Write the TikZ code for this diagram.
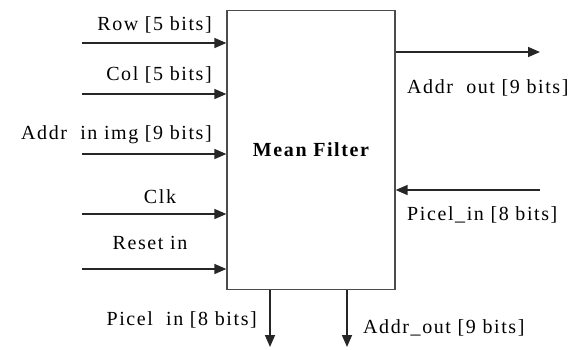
\documentclass[tikz,border=0pt]{standalone}
\usepackage{fontspec}
\setmainfont{Liberation Serif}[LetterSpace=8]
\usetikzlibrary{arrows.meta, positioning, calc}

\begin{document}
\begin{tikzpicture}[
    x=1pt, y=-1pt,
    >={Triangle[length=12pt, width=10pt]},
    filterbox/.style={draw=black!70, line width=1.3pt, fill=white, minimum width=168pt, minimum height=279pt, inner sep=0pt, font=\fontsize{20}{22}\selectfont\bfseries},
    sig/.style={draw=black!85, line width=1.6pt, ->},
    lbl/.style={inner sep=0pt, font=\fontsize{20}{22}\selectfont}
]
\useasboundingbox (0,0) rectangle (568,349);

% ==================== MEAN FILTER BLOCK ====================
\node[filterbox] (filter) at (311,150) {Mean Filter};

% ==================== LEFT INPUTS ====================
\coordinate (row_src) at (82,43);
\coordinate (col_src) at (82,94);
\coordinate (addr_src) at (82,154);
\coordinate (clk_src) at (82,214);
\coordinate (rst_src) at (82,269);

\draw[sig] (row_src) -- (row_src -| filter.west);
\draw[sig] (col_src) -- (col_src -| filter.west);
\draw[sig] (addr_src) -- (addr_src -| filter.west);
\draw[sig] (clk_src) -- (clk_src -| filter.west);
\draw[sig] (rst_src) -- (rst_src -| filter.west);

\node[lbl, anchor=east] (row_lbl) at (212,25) {Row [5 bits]};
\node[lbl, anchor=east] (col_lbl) at (212,75) {Col [5 bits]};
\node[lbl, anchor=east] (addr_lbl) at (212,135) {Addr\ \ in\ img [9 bits]};
\node[lbl] (clk_lbl) at (160,197) {Clk};
\node[lbl] (rst_lbl) at (150,243) {Reset in};

% ==================== RIGHT SIDE ====================
\coordinate (aout_dst) at (540,52);
\coordinate (pin_src) at (540,190);

\draw[sig] (aout_dst -| filter.east) -- (aout_dst);
\draw[sig] (pin_src) -- (pin_src -| filter.east);

\node[lbl, anchor=west] (aout_lbl) at (407,88) {Addr\ \ out [9 bits]};
\node[lbl, anchor=west] (pin_lbl) at (407,215) {Picel\_in [8 bits]};

% ==================== BOTTOM OUTPUTS ====================
\coordinate (pout_dst) at (270,347);
\coordinate (aout2_dst) at (347,347);

\draw[sig] (pout_dst |- filter.south) -- (pout_dst);
\draw[sig] (aout2_dst |- filter.south) -- (aout2_dst);

\node[lbl, anchor=east] (pout_lbl) at (257,320) {Picel\ \ in [8 bits]};
\node[lbl, anchor=west] (aout2_lbl) at (363,328) {Addr\_out [9 bits]};

\end{tikzpicture}
\end{document}
